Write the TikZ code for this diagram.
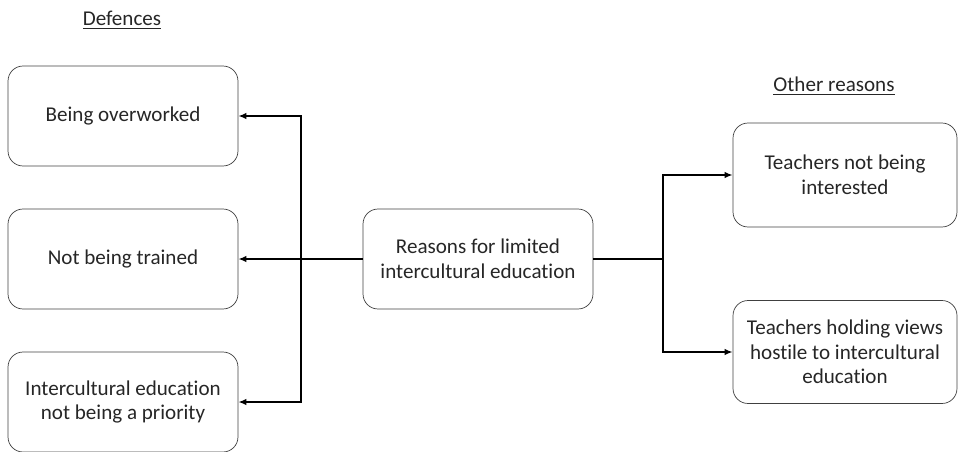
\documentclass[tikz,border=0pt]{standalone}
\usepackage{fontspec}
\setmainfont[Ligatures=NoCommon]{Carlito}
\usepackage{tikz}
\usetikzlibrary{arrows.meta}

\tikzset{
    reasonbox/.style={draw=black!75, rounded corners=0.3cm, minimum width=4.6cm,
        minimum height=2cm, align=center, text=black!85, inner sep=2pt},
    heading/.style={text=black!85},
    link/.style={line width=1.1pt},
    linkarr/.style={line width=1.1pt, -{Latex[length=1.6mm,width=1.3mm]}}
}

\begin{document}
\begin{tikzpicture}[x=0.02cm, y=-0.02cm, font=\fontsize{12}{14}\selectfont]
    \useasboundingbox (0,0) rectangle (958,451);

    % Headings
    \node[heading] (defh) at (122,20) {\underline{Defences}};
    \node[heading] (othh) at (834,86) {\underline{Other reasons}};

    % Central box
    \node[reasonbox] (reasons) at (478,259) {Reasons for limited\\intercultural education};

    % Defences (left)
    \node[reasonbox] (overwork) at (123,116) {Being overworked};
    \node[reasonbox] (trained) at (123,259) {Not being trained};
    \node[reasonbox] (priority) at (123,402) {Intercultural education\\not being a priority};

    % Other reasons (right)
    \node[reasonbox, minimum width=4.48cm, minimum height=2.08cm] (interest) at (845,175) {Teachers not being\\interested};
    \node[reasonbox, minimum width=4.48cm, minimum height=2.06cm] (hostile) at (845,352) {Teachers holding views\\hostile to intercultural\\education};

    % Branch points
    \coordinate (ljoin) at (301,259);
    \coordinate (rjoin) at (663,259);

    % Left connectors
    \draw[linkarr] (reasons.west) -- (trained.east);
    \draw[linkarr] (ljoin) |- (overwork.east);
    \draw[linkarr] (ljoin) |- (priority.east);

    % Right connectors
    \draw[link] (reasons.east) -- (rjoin);
    \draw[linkarr] (rjoin) |- (interest.west);
    \draw[linkarr] (rjoin) |- (hostile.west);
\end{tikzpicture}
\end{document}
